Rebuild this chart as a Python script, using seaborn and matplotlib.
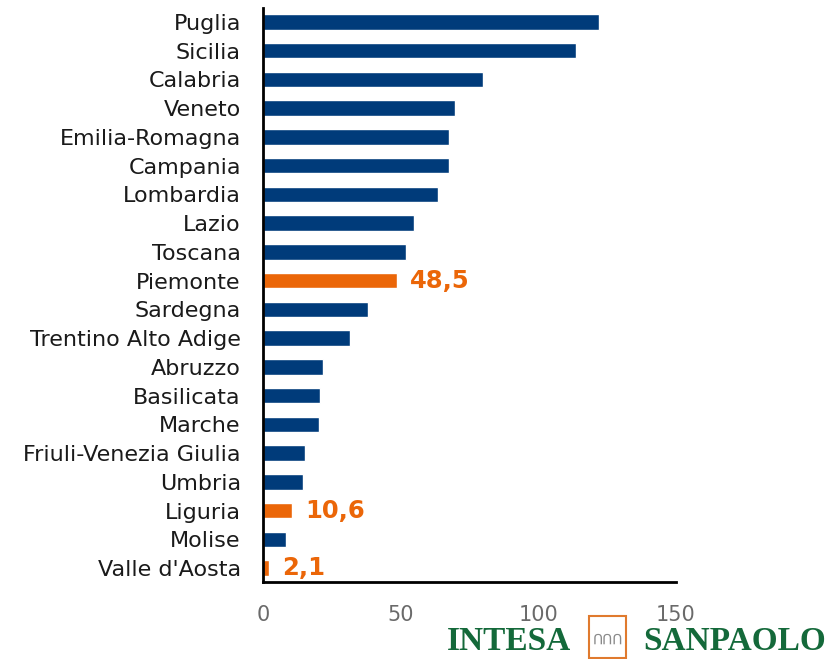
import matplotlib
matplotlib.use("Agg")
import matplotlib.pyplot as plt
import seaborn as sns
import pandas as pd
from matplotlib.patches import Rectangle

regions = ["Puglia", "Sicilia", "Calabria", "Veneto", "Emilia-Romagna", "Campania",
           "Lombardia", "Lazio", "Toscana", "Piemonte", "Sardegna",
           "Trentino Alto Adige", "Abruzzo", "Basilicata", "Marche",
           "Friuli-Venezia Giulia", "Umbria", "Liguria", "Molise", "Valle d'Aosta"]
values = [121.9, 113.8, 79.9, 69.9, 67.6, 67.5, 63.7, 54.9, 51.9, 48.5, 38.2,
          31.6, 21.9, 20.7, 20.3, 15.1, 14.4, 10.6, 8.3, 2.1]
highlighted = ["Piemonte", "Liguria", "Valle d'Aosta"]
x_ticks = [0, 50, 100, 150]

BLUE = "#003B7A"
ORANGE = "#EB6608"

df = pd.DataFrame({"region": regions, "value": values})
palette = {r: (ORANGE if r in highlighted else BLUE) for r in regions}

sns.set_style("white")
plt.rcParams["font.family"] = ["DejaVu Sans"]

fig = plt.figure(figsize=(8.4, 6.59), dpi=100)
ax = fig.add_axes([263 / 840, 76.6 / 659, 413 / 840, 574.8 / 659])

sns.barplot(data=df, x="value", y="region", hue="region", palette=palette,
            orient="h", width=0.54, legend=False, ax=ax, saturation=1)

ax.set_xlim(0, 150)
ax.set_ylim(len(regions) - 0.5, -0.5)
ax.set_xticks(x_ticks)
ax.set_xticklabels([str(t) for t in x_ticks], color="#6a6a6a", fontsize=15)
ax.set_xlabel("")
ax.set_ylabel("")
ax.tick_params(axis="y", length=0, labelsize=16, colors="#1a1a1a", pad=16)
ax.tick_params(axis="x", length=10, width=1.5, direction="out", pad=6, color="black")
for s in ["top", "right"]:
    ax.spines[s].set_visible(False)
for s in ["left", "bottom"]:
    ax.spines[s].set_color("black")
    ax.spines[s].set_linewidth(2)

for i, (r, v) in enumerate(zip(regions, values)):
    if r in highlighted:
        ax.annotate(f"{v:.1f}".replace(".", ","), xy=(v, i), xytext=(9.5, 0),
                    textcoords="offset points", va="center", ha="left",
                    color=ORANGE, fontsize=17.5, fontweight="bold")

# Logo
GREEN = "#14693A"
fig.text(447 / 840, 1 - 657 / 659, "INTESA", color=GREEN, fontsize=24,
         family="Liberation Serif", fontweight="bold", ha="left", va="bottom")
fig.text(643 / 840, 1 - 657 / 659, "SANPAOLO", color=GREEN, fontsize=24,
         family="Liberation Serif", fontweight="bold", ha="left", va="bottom")
fig.patches.append(Rectangle((589 / 840, 1 - 658 / 659), 37 / 840, 42 / 659,
                             transform=fig.transFigure, facecolor="white",
                             edgecolor="#E07A2E", linewidth=1.5))
fig.text(607.5 / 840, 1 - 640 / 659, "ՈՈՈ", color="#8a8a8a", fontsize=10,
         ha="center", va="center")

fig.savefig("out.png", dpi=100)
